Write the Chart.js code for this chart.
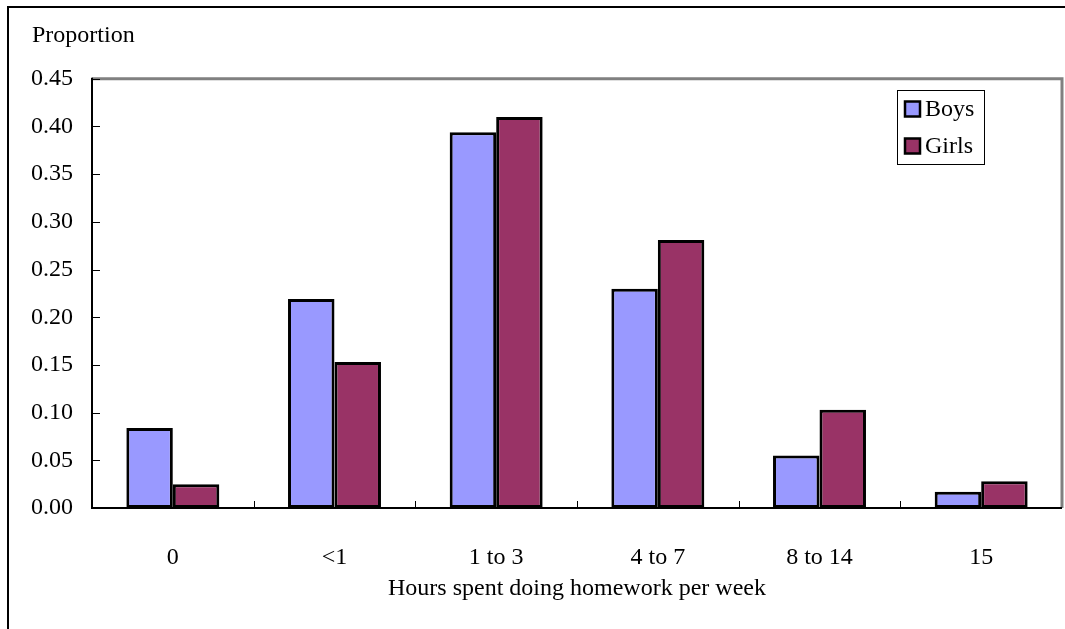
<!DOCTYPE html>
<html>
<head>
<meta charset="utf-8">
<script src="https://cdn.jsdelivr.net/npm/chart.js@4.4.1/dist/chart.umd.min.js"></script>
<style>
html,body{margin:0;padding:0;background:#fff;}
#wrap{position:relative;width:1065px;height:629px;}
</style>
</head>
<body>
<div id="wrap"><canvas id="c" width="1065" height="629"></canvas></div>
<script>
const categories = ['0', '<1', '1 to 3', '4 to 7', '8 to 14', '15'];
const boys  = [0.084, 0.219, 0.394, 0.230, 0.055, 0.017];
const girls = [0.025, 0.153, 0.410, 0.281, 0.103, 0.028];
const yTicks = [0, 0.05, 0.10, 0.15, 0.20, 0.25, 0.30, 0.35, 0.40, 0.45];

const FONT = 'Liberation Serif, Times New Roman, serif';
const FS = 24;

const framePlugin = {
  id: 'frame',
  beforeDraw(chart) {
    const ctx = chart.ctx;
    ctx.save();
    ctx.fillStyle = '#fff';
    ctx.fillRect(0, 0, chart.width, chart.height);
    ctx.strokeStyle = '#000';
    ctx.lineWidth = 2;
    ctx.beginPath();
    ctx.moveTo(8, chart.height);
    ctx.lineTo(8, 7);
    ctx.lineTo(chart.width, 7);
    ctx.stroke();
    ctx.restore();
  },
  afterDatasetsDraw(chart) {
    const ctx = chart.ctx;
    const a = chart.chartArea;
    const xs = chart.scales.x, ys = chart.scales.y;
    ctx.save();
    ctx.strokeStyle = '#808080';
    ctx.lineWidth = 3;
    ctx.beginPath();
    ctx.moveTo(a.left, a.top);
    ctx.lineTo(a.right, a.top);
    ctx.lineTo(a.right, a.bottom);
    ctx.stroke();
    ctx.strokeStyle = '#000';
    ctx.lineWidth = 2;
    ctx.beginPath();
    ctx.moveTo(a.left, a.top - 1);
    ctx.lineTo(a.left, a.bottom);
    ctx.lineTo(a.right, a.bottom);
    ctx.stroke();
    ctx.lineWidth = 1;
    ctx.beginPath();
    yTicks.forEach(v => {
      const y = Math.round(ys.getPixelForValue(v)) + 0.5;
      ctx.moveTo(a.left, y);
      ctx.lineTo(a.left + 8, y);
    });
    for (let i = 1; i < categories.length; i++) {
      const x = Math.round((xs.getPixelForValue(i - 1) + xs.getPixelForValue(i)) / 2) + 0.5;
      ctx.moveTo(x, a.bottom);
      ctx.lineTo(x, a.bottom - 7);
    }
    ctx.stroke();
    // legend
    const lx = 897, ly = 90, lw = 87, lh = 74;
    ctx.fillStyle = '#fff';
    ctx.fillRect(lx, ly, lw, lh);
    ctx.strokeStyle = '#000';
    ctx.lineWidth = 1;
    ctx.strokeRect(lx + 0.5, ly + 0.5, lw, lh);
    chart.data.datasets.forEach((ds, i) => {
      const cy = 109 + i * 37;
      ctx.fillStyle = ds.backgroundColor;
      ctx.fillRect(905, cy - 7.5, 15, 15);
      ctx.lineWidth = 2.5;
      ctx.strokeStyle = '#000';
      ctx.strokeRect(905, cy - 7.5, 15, 15);
      ctx.fillStyle = '#000';
      ctx.font = FS + 'px ' + FONT;
      ctx.textBaseline = 'middle';
      ctx.textAlign = 'left';
      ctx.fillText(ds.label, 925, cy + 1);
    });
    ctx.restore();
  }
};

new Chart(document.getElementById('c'), {
  type: 'bar',
  data: {
    labels: categories,
    datasets: [
      { label: 'Boys', data: boys, backgroundColor: '#9999FF', borderColor: '#000', borderWidth: 3, borderSkipped: false, categoryPercentage: 0.575, barPercentage: 1.0 },
      { label: 'Girls', data: girls, backgroundColor: '#993366', borderColor: '#000', borderWidth: 3, borderSkipped: false, categoryPercentage: 0.575, barPercentage: 1.0 }
    ]
  },
  options: {
    responsive: false,
    animation: false,
    devicePixelRatio: 1,
    layout: { padding: { left: 32, right: 3, top: 0, bottom: 22 } },
    plugins: {
      legend: { display: false },
      tooltip: { enabled: false },
      title: {
        display: true, text: 'Proportion', align: 'start', color: '#000',
        font: { family: FONT, size: FS, weight: 'normal' },
        padding: { top: 21, bottom: 29 }
      }
    },
    scales: {
      x: {
        grid: { display: false, drawTicks: false },
        border: { display: false },
        afterFit(scale) { scale.height = 99; },
        ticks: { color: '#000', font: { family: FONT, size: FS }, padding: 35, maxRotation: 0 },
        title: { display: true, text: 'Hours spent doing homework per week', color: '#000', font: { family: FONT, size: FS }, padding: { top: 4, bottom: 4 } }
      },
      y: {
        min: 0, max: 0.45,
        grid: { display: false, drawTicks: false },
        border: { display: false },
        afterBuildTicks(scale) { scale.ticks = yTicks.map(v => ({ value: v })); },
        afterFit(scale) { scale.width = 60; },
        ticks: { color: '#000', font: { family: FONT, size: FS }, padding: 19, callback: v => Number(v).toFixed(2) }
      }
    }
  },
  plugins: [framePlugin]
});
</script>
</body>
</html>
